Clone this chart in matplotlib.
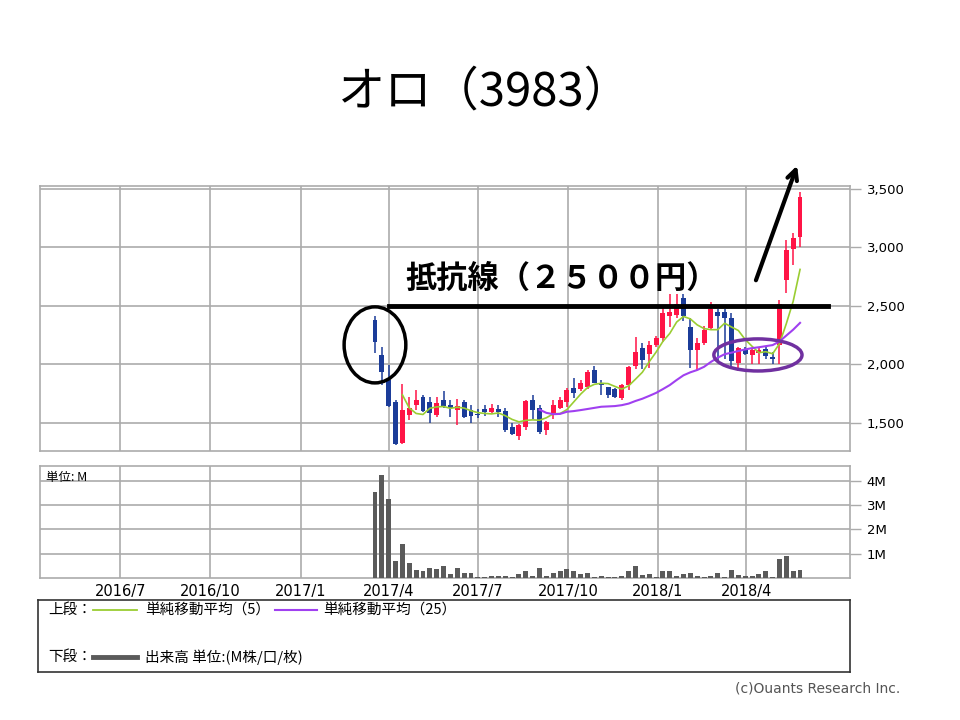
import matplotlib
matplotlib.use('Agg')
import matplotlib.pyplot as plt
import matplotlib.dates as mdates
from matplotlib.patches import Ellipse
import pandas as pd

plt.rcParams['font.family'] = ['Noto Sans CJK JP', 'DejaVu Sans']

title = 'オロ（3983）'
first_week = '2017-03-18'

# weekly candles (yen)
opens = [2380, 2080, 1870, 1680, 1330, 1570, 1650, 1720, 1680, 1570,
         1700, 1650, 1610, 1680, 1610, 1575, 1620, 1590, 1620, 1600,
         1465, 1390, 1465, 1695, 1630, 1440, 1570, 1630, 1680, 1800,
         1790, 1810, 1955, 1840, 1810, 1790, 1710, 1820, 1990, 2140,
         2085, 2170, 2230, 2410, 2420, 2570, 2320, 2125, 2180, 2310,
         2450, 2450, 2400, 2010, 2130, 2080, 2100, 2130, 2060, 2165,
         2720, 2985, 3090]
highs = [2414, 2150, 1995, 1700, 1830, 1720, 1780, 1740, 1720, 1720,
         1775, 1700, 1705, 1700, 1650, 1620, 1650, 1665, 1650, 1630,
         1500, 1490, 1700, 1740, 1650, 1520, 1700, 1720, 1800, 1885,
         1870, 1950, 1990, 1870, 1810, 1800, 1830, 1990, 2235, 2180,
         2200, 2240, 2510, 2600, 2600, 2600, 2400, 2230, 2330, 2530,
         2470, 2470, 2440, 2150, 2150, 2140, 2140, 2160, 2110, 2550,
         3065, 3125, 3475]
lows = [2098, 1825, 1640, 1310, 1320, 1525, 1610, 1590, 1500, 1550,
        1630, 1550, 1485, 1540, 1500, 1540, 1560, 1585, 1550, 1420,
        1395, 1355, 1440, 1530, 1405, 1400, 1530, 1620, 1640, 1715,
        1770, 1790, 1840, 1740, 1710, 1710, 1700, 1780, 1960, 1960,
        1970, 2150, 2190, 2320, 2400, 2370, 1970, 1955, 2170, 2300,
        2010, 2050, 1990, 1940, 2080, 2000, 2000, 2050, 2000, 2000,
        2610, 2850, 3000]
closes = [2192, 1935, 1645, 1320, 1610, 1630, 1700, 1600, 1585, 1670,
          1645, 1625, 1645, 1550, 1555, 1565, 1590, 1625, 1590, 1440,
          1405, 1485, 1690, 1610, 1425, 1510, 1655, 1700, 1780, 1755,
          1840, 1935, 1840, 1825, 1740, 1720, 1820, 1980, 2110, 2035,
          2170, 2230, 2440, 2450, 2520, 2410, 2125, 2185, 2290, 2475,
          2410, 2400, 2025, 2140, 2090, 2120, 2125, 2070, 2050, 2520,
          2980, 3080, 3430]
# volume, millions of shares
volumes = [3.55, 4.25, 3.25, 0.70, 1.38, 0.62, 0.33, 0.30, 0.43, 0.39,
           0.50, 0.17, 0.43, 0.22, 0.20, 0.05, 0.03, 0.10, 0.10, 0.10,
           0.05, 0.17, 0.28, 0.10, 0.40, 0.10, 0.20, 0.28, 0.35, 0.28,
           0.17, 0.20, 0.05, 0.10, 0.05, 0.05, 0.10, 0.28, 0.50, 0.14,
           0.17, 0.05, 0.28, 0.28, 0.10, 0.17, 0.20, 0.10, 0.05, 0.10,
           0.20, 0.05, 0.33, 0.14, 0.10, 0.10, 0.17, 0.28, 0.05, 0.78,
           0.92, 0.27, 0.32]

quarter_ticks = ['2016-07-01', '2016-10-01', '2017-01-01', '2017-04-01',
                 '2017-07-01', '2017-10-01', '2018-01-01', '2018-04-01']
quarter_labels = ['2016/7', '2016/10', '2017/1', '2017/4',
                  '2017/7', '2017/10', '2018/1', '2018/4']
price_ticks = [1500, 2000, 2500, 3000, 3500]
vol_ticks = [1, 2, 3, 4]
resistance = 2500

RED = '#ff1446'
BLUE = '#1b3c99'
GRID = '#ababab'

weeks = pd.date_range(first_week, periods=len(closes), freq='7D')
x = mdates.date2num(weeks)
df = pd.DataFrame({'o': opens, 'h': highs, 'l': lows, 'c': closes, 'v': volumes}, index=x)
df['ma5'] = df['c'].rolling(5).mean()
df['ma25'] = df['c'].rolling(25).mean()

def d(s):
    return mdates.date2num(pd.Timestamp(s))

xlim = (d('2016-04-10'), d('2018-07-16'))
qx = [d(t) for t in quarter_ticks]

fig = plt.figure(figsize=(9.6, 7.2), dpi=100)
ax = fig.add_axes([40/960, 1 - 451/720, 810/960, 265/720])
vax = fig.add_axes([40/960, 1 - 578/720, 810/960, 112/720])

for a in (ax, vax):
    a.set_xlim(*xlim)
    a.set_xticks(qx)
    a.set_axisbelow(True)
    a.grid(True, color=GRID, lw=1.2)
    for s in a.spines.values():
        s.set_color(GRID)
        s.set_linewidth(1.2)
    a.yaxis.tick_right()
    a.tick_params(axis='y', length=8, color=GRID, width=1, labelsize=9.5, pad=4)
    a.tick_params(axis='x', length=0)

# candles
colors = [RED if c >= o else BLUE for o, c in zip(df['o'], df['c'])]
body_lo = df[['o', 'c']].min(axis=1)
body_h = (df['c'] - df['o']).abs().clip(lower=12)
ax.vlines(df.index, df['l'], df['h'], colors=colors, lw=1.1, zorder=2)
ax.bar(df.index, body_h, bottom=body_lo, width=5, color=colors, zorder=3)
ax.plot(df.index, df['ma5'], color='#9acd32', lw=1.2, zorder=4)
ax.plot(df.index, df['ma25'], color='#a040f0', lw=1.5, zorder=4)

ax.set_ylim(1260, 3525)
ax.set_yticks(price_ticks)
ax.set_yticklabels([f'{v:,}' for v in price_ticks], family='DejaVu Sans')
ax.set_xticklabels([])

# volume
vax.bar(df.index, df['v'], width=5, color='#5a5a5a', zorder=3)
vax.set_ylim(0, 4.6)
vax.set_yticks(vol_ticks)
vax.set_yticklabels([f'{v}M' for v in vol_ticks], family='DejaVu Sans')
vax.set_xticklabels(quarter_labels, family='DejaVu Sans', fontsize=10.5)
vax.tick_params(axis='x', pad=4)
vax.text(0.007, 0.9, '単位: M', transform=vax.transAxes, fontsize=9, va='center')

# annotations
ax.plot([d('2017-04-01'), d('2018-06-24')], [resistance, resistance],
        color='black', lw=3.5, clip_on=False, zorder=6)
ax.text(d('2017-04-18'), 2735, '抵抗線（２５００円）', fontsize=22.5,
        fontweight='bold', va='center', zorder=6)
ax.add_patch(Ellipse((x[0], 2167), width=63, height=650, fill=False,
                     ec='black', lw=2.5, clip_on=False, zorder=6))
ax.add_patch(Ellipse((d('2018-04-13'), 2081), width=90, height=274, fill=False,
                     ec='#7030a0', lw=2.5, clip_on=False, zorder=6))
ax.annotate('', xy=(d('2018-05-24'), 3722), xytext=(d('2018-04-10'), 2697),
            arrowprops=dict(arrowstyle='->', lw=3, color='black', mutation_scale=18),
            annotation_clip=False, zorder=6)

# legend box
lax = fig.add_axes([38/960, 1 - 672/720, 812/960, 72/720])
lax.set_xlim(0, 812)
lax.set_ylim(72, 0)
lax.set_xticks([])
lax.set_yticks([])
for s in lax.spines.values():
    s.set_color('#333333')
    s.set_linewidth(1.2)
lax.text(10, 10, '上段：', fontsize=10.5, va='center')
lax.plot([55, 99], [10, 10], color='#9acd32', lw=1.3)
lax.text(107, 10, '単純移動平均（5）', fontsize=10.5, va='center')
lax.plot([237, 279], [10, 10], color='#a040f0', lw=1.5)
lax.text(285, 10, '単純移動平均（25）', fontsize=10.5, va='center')
lax.text(10, 57, '下段：', fontsize=10.5, va='center')
lax.plot([55, 99], [57, 57], color='#5a5a5a', lw=3.5)
lax.text(107, 57, '出来高 単位:(M株/口/枚)', fontsize=10.5, va='center')

fig.text(485/960, 1 - 92/720, title, fontsize=34, ha='center', va='center')
fig.text(900/960, 1 - 688/720, '(c)Ouants Research Inc.', fontsize=10,
         color='#555555', ha='right', va='center', family='DejaVu Sans')

fig.savefig('out.png', dpi=100)
